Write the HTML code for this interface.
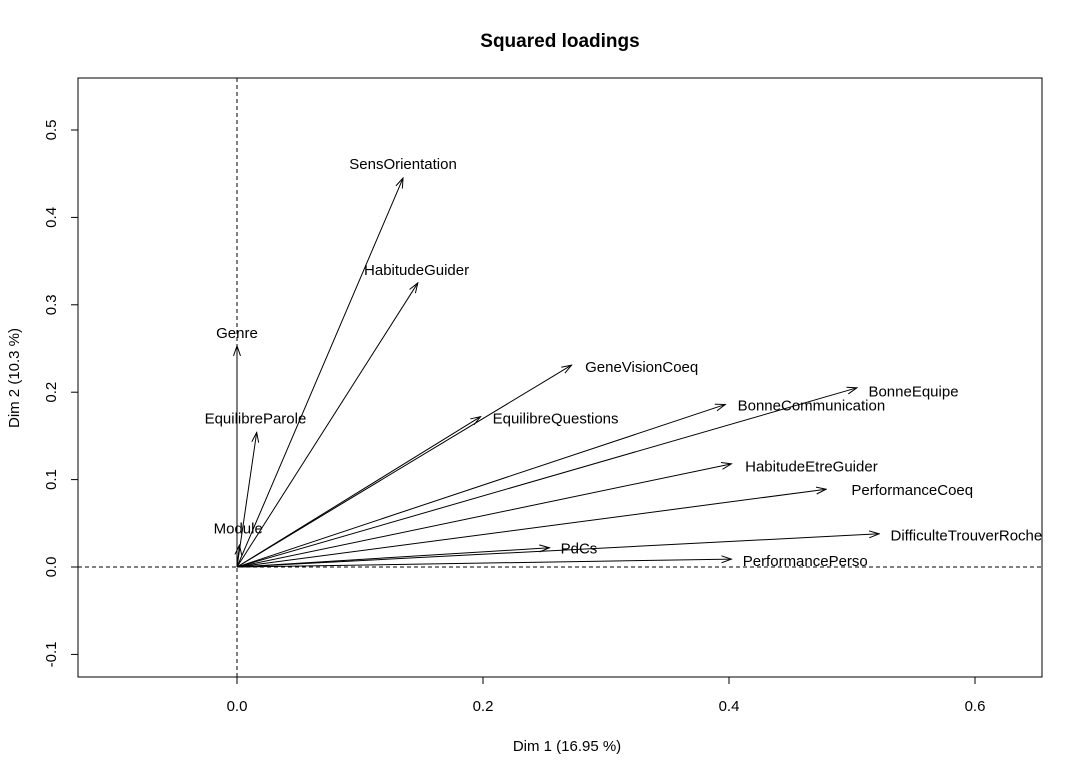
<!DOCTYPE html>
<html><head><meta charset="utf-8"><style>
html,body{margin:0;padding:0;background:#fff}
svg{display:block;font-family:"Liberation Sans",Arial,sans-serif}
</style></head><body>
<svg width="1083" height="775" viewBox="0 0 1083 775" xmlns="http://www.w3.org/2000/svg">
<defs><marker id="ah" markerWidth="11" markerHeight="8" refX="10" refY="4" orient="auto" markerUnits="userSpaceOnUse"><path d="M0,0.5 L10,4 L0,7.5" fill="none" stroke="#000" stroke-width="1"/></marker></defs>
<text x="560" y="47" text-anchor="middle" font-size="19" font-weight="bold">Squared loadings</text>
<rect x="78" y="78" width="964" height="599" fill="none" stroke="#000"/>
<g id="axes"></g>
<g id="marks"></g>
<text x="567" y="751" text-anchor="middle" font-size="15">Dim 1 (16.95 %)</text>
<text transform="translate(19,378) rotate(-90)" text-anchor="middle" font-size="15">Dim 2 (10.3 %)</text>
</svg>
<script>
const variables=["SensOrientation","HabitudeGuider","Genre","EquilibreParole","Module","GeneVisionCoeq","EquilibreQuestions","BonneCommunication","BonneEquipe","HabitudeEtreGuider","PerformanceCoeq","DifficulteTrouverRoche","PdCs","PerformancePerso"];
const dim1=[0.135,0.147,0.0,0.016,0.002,0.272,0.198,0.397,0.504,0.402,0.479,0.522,0.254,0.402];
const dim2=[0.445,0.325,0.253,0.154,0.025,0.231,0.172,0.186,0.205,0.118,0.089,0.038,0.022,0.009];
const labelDim1=[0.135,0.146,0.0,0.015,0.001,0.329,0.259,0.467,0.550,0.467,0.549,0.593,0.278,0.462];
const labelDim2=[0.461,0.340,0.268,0.170,0.044,0.229,0.170,0.185,0.201,0.115,0.088,0.036,0.021,0.007];
const xTicks=[0.0,0.2,0.4,0.6];
const yTicks=[-0.1,0.0,0.1,0.2,0.3,0.4,0.5];
const NS="http://www.w3.org/2000/svg";
const sx=v=>237+v*1230, sy=v=>567-v*874;
function mk(t,a,p){const e=document.createElementNS(NS,t);for(const k in a)e.setAttribute(k,a[k]);p.appendChild(e);return e;}
const ax=document.getElementById('axes'), mg=document.getElementById('marks');
mk('line',{x1:237,y1:78,x2:237,y2:677,stroke:'#000','stroke-dasharray':'4,3'},ax);
mk('line',{x1:78,y1:sy(0),x2:1042,y2:sy(0),stroke:'#000','stroke-dasharray':'4,3'},ax);
mk('line',{x1:sx(xTicks[0]),y1:677,x2:sx(xTicks[xTicks.length-1]),y2:677,stroke:'#000'},ax);
xTicks.forEach(v=>{const x=sx(v);
 const l=mk('line',{x1:x,y1:677,x2:x,y2:684,stroke:'#000'},ax);
 
 
 const t=mk('text',{x:x,y:711,'text-anchor':'middle','font-size':15},ax);t.textContent=v.toFixed(1);
 
 });
mk('line',{x1:78,y1:sy(yTicks[0]),x2:78,y2:sy(yTicks[yTicks.length-1]),stroke:'#000'},ax);
yTicks.forEach(v=>{const y=sy(v);
 const l=mk('line',{x1:71,y1:y,x2:78,y2:y,stroke:'#000'},ax);
 
 
 const t=mk('text',{transform:`translate(56,${y}) rotate(-90)`,'text-anchor':'middle','font-size':15},ax);t.textContent=v.toFixed(1);
 
 });
variables.forEach((n,i)=>{
 const l=mk('line',{x1:sx(0),y1:sy(0),x2:sx(dim1[i]),y2:sy(dim2[i]),stroke:'#000','stroke-width':1,'marker-end':'url(#ah)'},mg);
 
 
 const t=mk('text',{x:sx(labelDim1[i]),y:sy(labelDim2[i])+5,'text-anchor':'middle','font-size':15},mg);t.textContent=n;
 
 
});
</script>
</body></html>
